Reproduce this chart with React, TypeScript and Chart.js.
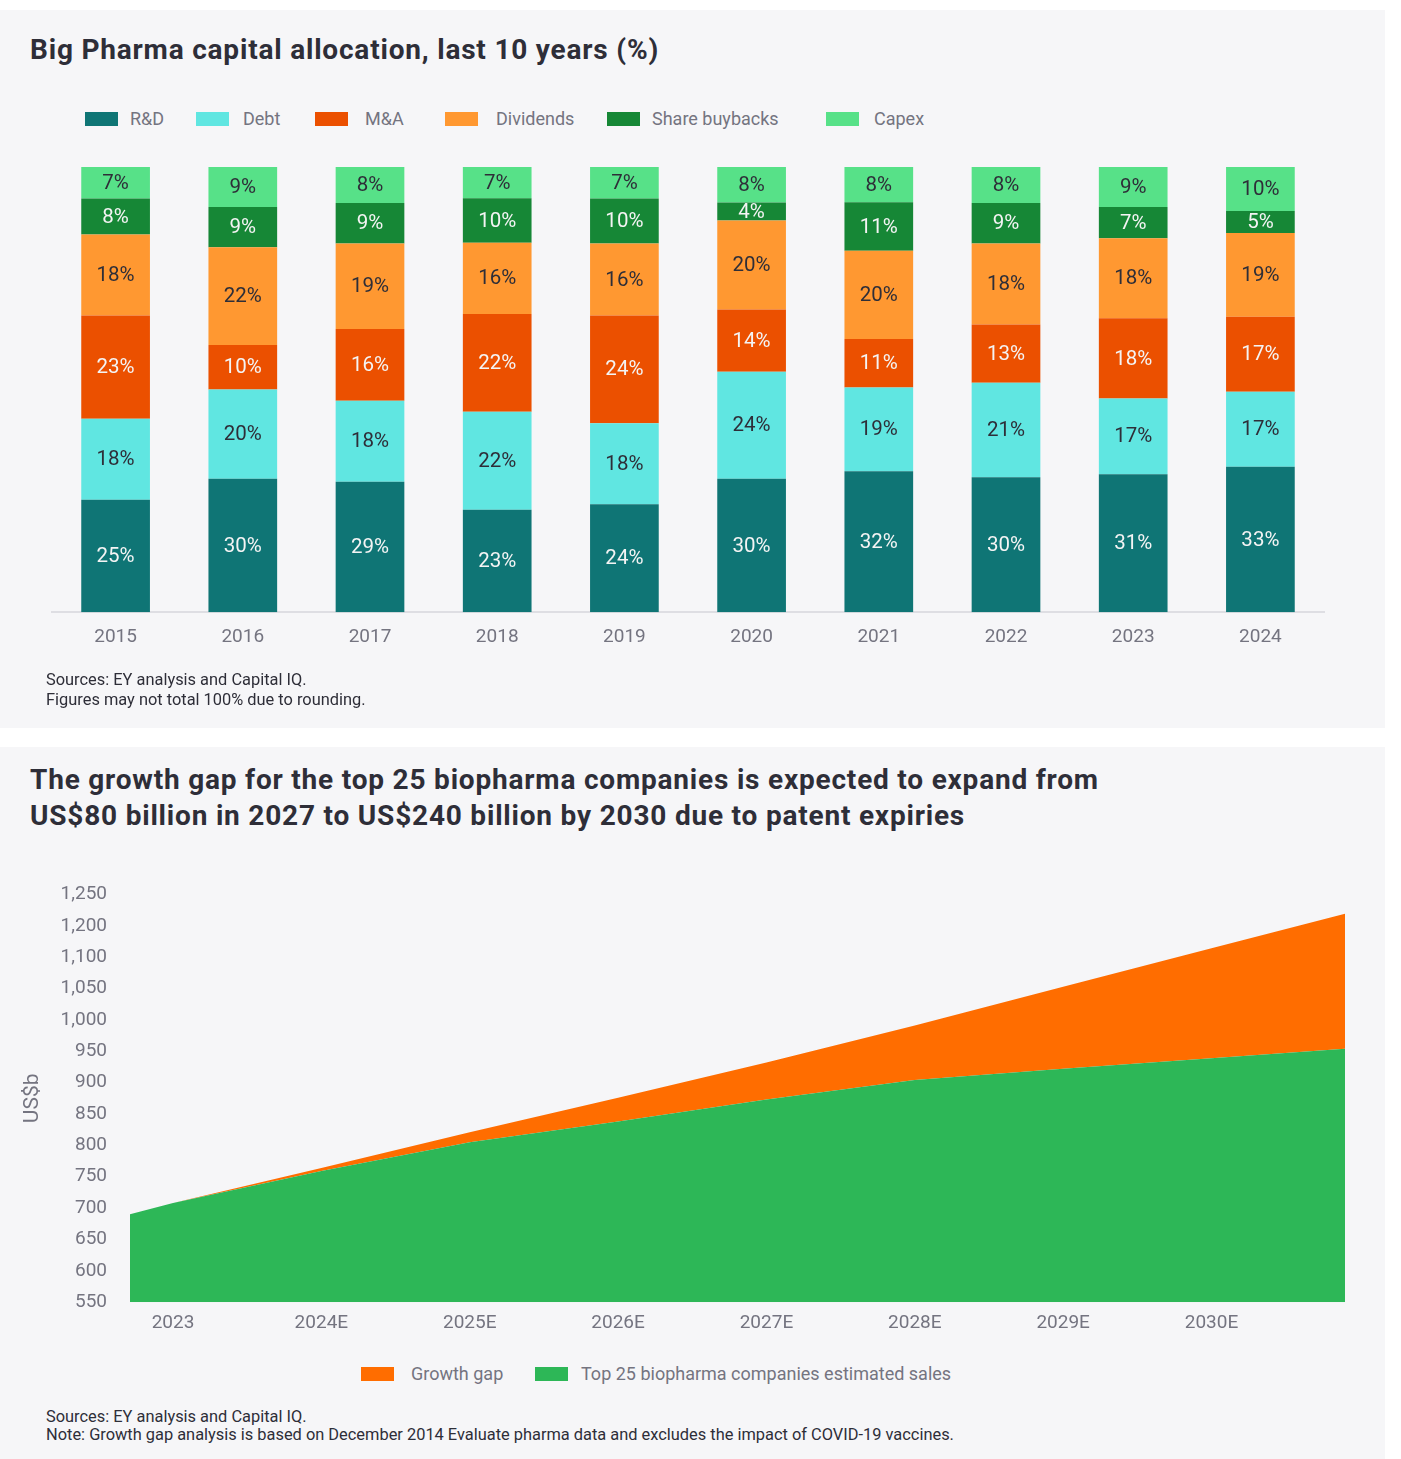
import { useEffect, useRef } from 'react';
import { Chart, registerables } from 'chart.js';

Chart.register(...registerables);

// ---- Big Pharma capital allocation (%) ----
const YEARS = ['2015', '2016', '2017', '2018', '2019', '2020', '2021', '2022', '2023', '2024'];
const RND = [25, 30, 29, 23, 24, 30, 32, 30, 31, 33];
const DEBT = [18, 20, 18, 22, 18, 24, 19, 21, 17, 17];
const MNA = [23, 10, 16, 22, 24, 14, 11, 13, 18, 17];
const DIVIDENDS = [18, 22, 19, 16, 16, 20, 20, 18, 18, 19];
const BUYBACKS = [8, 9, 9, 10, 10, 4, 11, 9, 7, 5];
const CAPEX = [7, 9, 8, 7, 7, 8, 8, 8, 9, 10];

// ---- Growth gap (US$b) ----
const AREA_X = [2022.71, 2023, 2024, 2025, 2026, 2027, 2028, 2029, 2030, 2030.9];
const SALES = [690, 708, 759, 805, 838, 873, 904, 922, 939, 954];
const GAP = [0, 0, 5, 16, 38, 59, 87, 131, 175, 215];
const AREA_TICK_YEARS = [2023, 2024, 2025, 2026, 2027, 2028, 2029, 2030];
const AREA_TICK_LABELS = ['2023', '2024E', '2025E', '2026E', '2027E', '2028E', '2029E', '2030E'];
const Y_TICK_LABELS = ['550', '600', '650', '700', '750', '800', '850', '900', '950', '1,000', '1,050', '1,100', '1,200', '1,250'];

const GREY = '#747480';
const DARK = '#2e2e38';
const PANEL = '#f6f6f8';

Chart.defaults.font.family = 'Roboto, sans-serif';

const BAR_SERIES = [
  { label: 'R&D', values: RND, color: '#0f7575', text: '#f4f4f4' },
  { label: 'Debt', values: DEBT, color: '#60e6e1', text: DARK },
  { label: 'M&A', values: MNA, color: '#eb5000', text: '#f4f4f4' },
  { label: 'Dividends', values: DIVIDENDS, color: '#ff9831', text: DARK },
  { label: 'Share buybacks', values: BUYBACKS, color: '#168736', text: '#f4f4f4' },
  { label: 'Capex', values: CAPEX, color: '#57e188', text: DARK },
];

const AREA_SERIES = [
  { label: 'Growth gap', color: '#ff6d00' },
  { label: 'Top 25 biopharma companies estimated sales', color: '#2db757' },
];

const barLabels = {
  id: 'barLabels',
  afterDatasetsDraw(chart: any) {
    const { ctx } = chart;
    ctx.save();
    ctx.font = '20.5px Roboto, sans-serif';
    ctx.textAlign = 'center';
    ctx.textBaseline = 'middle';
    chart.data.datasets.forEach((ds: any, i: number) => {
      const meta = chart.getDatasetMeta(i);
      ctx.fillStyle = ds.labelColor;
      meta.data.forEach((el: any, j: number) => {
        ctx.fillText(`${ds.rawValues[j]}%`, el.x, (el.y + el.base) / 2 + 1);
      });
    });
    ctx.restore();
  },
};

function AllocationChart() {
  const canvasRef = useRef<HTMLCanvasElement>(null);

  useEffect(() => {
    if (!canvasRef.current) return;
    const totals = YEARS.map((_, j) => BAR_SERIES.reduce((s, d) => s + d.values[j], 0));
    const chart = new Chart(canvasRef.current, {
      type: 'bar',
      data: {
        labels: YEARS,
        datasets: BAR_SERIES.map((s) => ({
          label: s.label,
          data: s.values.map((v, j) => (v * 100) / totals[j]),
          rawValues: s.values,
          labelColor: s.text,
          backgroundColor: s.color,
          borderWidth: 0,
          barPercentage: 0.54,
          categoryPercentage: 1,
        })) as any,
      },
      options: {
        responsive: true,
        maintainAspectRatio: false,
        animation: false,
        layout: { padding: { top: 27, left: 52, right: 61, bottom: 10 } },
        plugins: { legend: { display: false }, tooltip: { enabled: false } },
        scales: {
          x: {
            stacked: true,
            grid: { display: false, drawTicks: false },
            border: { display: true, color: '#dedee3', width: 2 },
            ticks: { color: GREY, font: { size: 19 }, padding: 14 },
          },
          y: { stacked: true, display: false, min: 0, max: 100 },
        },
      },
      plugins: [barLabels],
    });
    return () => chart.destroy();
  }, []);

  return (
    <div style={{ position: 'absolute', left: 0, top: 140, width: 1385, height: 533 }}>
      <canvas ref={canvasRef} />
    </div>
  );
}

function GrowthGapChart() {
  const canvasRef = useRef<HTMLCanvasElement>(null);

  useEffect(() => {
    if (!canvasRef.current) return;
    const chart = new Chart(canvasRef.current, {
      type: 'line',
      data: {
        datasets: [
          {
            label: AREA_SERIES[1].label,
            data: AREA_X.map((x, i) => ({ x, y: SALES[i] })),
            backgroundColor: AREA_SERIES[1].color,
            borderWidth: 0,
            pointRadius: 0,
            fill: 'start',
          },
          {
            label: AREA_SERIES[0].label,
            data: AREA_X.map((x, i) => ({ x, y: GAP[i] })),
            backgroundColor: AREA_SERIES[0].color,
            borderWidth: 0,
            pointRadius: 0,
            fill: '-1',
          },
        ],
      },
      options: {
        responsive: true,
        maintainAspectRatio: false,
        animation: false,
        layout: { padding: { top: 12, left: 16, right: 40, bottom: 10 } },
        plugins: { legend: { display: false }, tooltip: { enabled: false } },
        scales: {
          x: {
            type: 'linear',
            min: AREA_X[0],
            max: AREA_X[AREA_X.length - 1],
            grid: { display: false, drawTicks: false },
            border: { display: false },
            afterBuildTicks: (scale: any) => {
              scale.ticks = AREA_TICK_YEARS.map((v) => ({ value: v }));
            },
            ticks: {
              color: GREY,
              font: { size: 19 },
              padding: 10,
              autoSkip: false,
              maxRotation: 0,
              callback: (_v: any, i: number) => AREA_TICK_LABELS[i],
            },
          },
          y: {
            stacked: true,
            min: 550,
            max: 1200,
            grid: { display: false, drawTicks: false },
            border: { display: false },
            afterFit: (scale: any) => {
              scale.width = 114;
            },
            title: { display: true, text: 'US$b', color: GREY, font: { size: 21 }, padding: 4 },
            ticks: {
              stepSize: 50,
              color: GREY,
              font: { size: 19 },
              padding: 23,
              callback: (_v: any, i: number) => Y_TICK_LABELS[i],
            },
          },
        },
      },
    });
    return () => chart.destroy();
  }, []);

  return (
    <div style={{ position: 'absolute', left: 0, top: 860, width: 1385, height: 495 }}>
      <canvas ref={canvasRef} />
    </div>
  );
}

function LegendItem({ left, textLeft, top, color, label }: { left: number; textLeft: number; top: number; color: string; label: string }) {
  return (
    <>
      <div style={{ position: 'absolute', left, top: top - 7, width: 33, height: 14, background: color }} />
      <div style={{ position: 'absolute', left: textLeft, top: top - 11, lineHeight: '22px', fontSize: 18, color: GREY, whiteSpace: 'nowrap' }}>
        {label}
      </div>
    </>
  );
}

const BAR_LEGEND_POS = [
  [85, 130],
  [196, 243],
  [315, 365],
  [445, 496],
  [607, 652],
  [826, 874],
];
const AREA_LEGEND_POS = [
  [361, 411],
  [535, 581],
];

const titleStyle = { position: 'absolute', left: 30, fontSize: 28, fontWeight: 700, letterSpacing: '0.8px', whiteSpace: 'nowrap' } as const;
const noteStyle = { position: 'absolute', left: 46, fontSize: 16.4 } as const;

export default function App() {
  useEffect(() => {
    document.body.style.margin = '0';
  }, []);

  return (
    <div style={{ position: 'relative', width: 1401, height: 1459, background: '#fff', fontFamily: 'Roboto, sans-serif', color: DARK }}>
      <div style={{ position: 'absolute', left: 0, top: 10, width: 1385, height: 718, background: PANEL }} />
      <div style={{ position: 'absolute', left: 0, top: 747, width: 1385, height: 712, background: PANEL }} />

      <div style={{ ...titleStyle, top: 34, lineHeight: '32px' }}>Big Pharma capital allocation, last 10 years (%)</div>
      {BAR_SERIES.map((s, i) => (
        <LegendItem key={s.label} left={BAR_LEGEND_POS[i][0]} textLeft={BAR_LEGEND_POS[i][1]} top={119} color={s.color} label={s.label} />
      ))}
      <AllocationChart />
      <div style={{ ...noteStyle, top: 670, lineHeight: '20px' }}>
        Sources: EY analysis and Capital IQ.
        <br />
        Figures may not total 100% due to rounding.
      </div>

      <div style={{ ...titleStyle, top: 762, lineHeight: '36px' }}>
        The growth gap for the top 25 biopharma companies is expected to expand from
        <br />
        US$80 billion in 2027 to US$240 billion by 2030 due to patent expiries
      </div>
      <GrowthGapChart />
      {AREA_SERIES.map((s, i) => (
        <LegendItem key={s.label} left={AREA_LEGEND_POS[i][0]} textLeft={AREA_LEGEND_POS[i][1]} top={1374} color={s.color} label={s.label} />
      ))}
      <div style={{ ...noteStyle, top: 1408, lineHeight: '18px' }}>
        Sources: EY analysis and Capital IQ.
        <br />
        Note: Growth gap analysis is based on December 2014 Evaluate pharma data and excludes the impact of COVID-19 vaccines.
      </div>
    </div>
  );
}
